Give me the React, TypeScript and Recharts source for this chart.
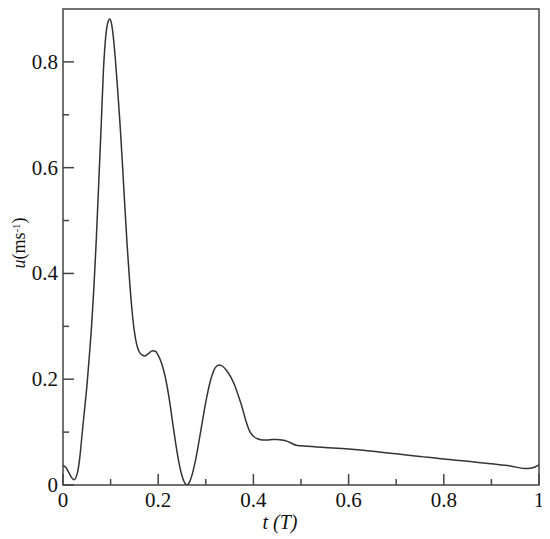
import React from 'react';
import { LineChart, Line, XAxis, YAxis, ReferenceArea } from 'recharts';

const tValues = [
  0.000, 0.006, 0.012, 0.018, 0.023, 0.030, 0.035, 0.040, 0.045, 0.050,
  0.055, 0.060, 0.065, 0.070, 0.075, 0.080, 0.085, 0.090, 0.095, 0.098,
  0.102, 0.106, 0.110, 0.115, 0.120, 0.125, 0.130, 0.135, 0.140, 0.145,
  0.150, 0.155, 0.160, 0.166, 0.172, 0.180, 0.188, 0.194, 0.200, 0.206,
  0.212, 0.218, 0.224, 0.230, 0.236, 0.242, 0.248, 0.254, 0.260, 0.266,
  0.272, 0.278, 0.284, 0.290, 0.296, 0.302, 0.308, 0.314, 0.320, 0.328,
  0.336, 0.344, 0.352, 0.360, 0.368, 0.376, 0.384, 0.392, 0.400, 0.410,
  0.420, 0.430, 0.440, 0.450, 0.460, 0.470, 0.480, 0.490, 0.500, 0.550,
  0.600, 0.650, 0.700, 0.750, 0.800, 0.850, 0.900, 0.940, 0.970, 0.985,
  1.000,
];
const uValues = [
  0.037, 0.033, 0.024, 0.014, 0.010, 0.022, 0.050, 0.095, 0.140, 0.185,
  0.240, 0.300, 0.375, 0.465, 0.570, 0.675, 0.785, 0.850, 0.877, 0.881,
  0.872, 0.845, 0.805, 0.745, 0.680, 0.605, 0.525, 0.450, 0.385, 0.330,
  0.290, 0.265, 0.252, 0.246, 0.244, 0.249, 0.254, 0.253, 0.245, 0.233,
  0.215, 0.190, 0.158, 0.120, 0.083, 0.050, 0.024, 0.007, 0.000, 0.006,
  0.022, 0.045, 0.074, 0.105, 0.137, 0.166, 0.191, 0.210, 0.222, 0.227,
  0.224, 0.216, 0.205, 0.190, 0.170, 0.148, 0.122, 0.102, 0.092, 0.087,
  0.085, 0.085, 0.086, 0.086, 0.085, 0.083, 0.079, 0.075, 0.074, 0.071,
  0.068, 0.064, 0.059, 0.054, 0.049, 0.045, 0.040, 0.036, 0.031, 0.032,
  0.038,
];

const xTicks = [0, 0.1, 0.2, 0.3, 0.4, 0.5, 0.6, 0.7, 0.8, 0.9, 1];
const yTicks = [0, 0.1, 0.2, 0.3, 0.4, 0.5, 0.6, 0.7, 0.8];

const data = tValues.map((t, i) => ({ t, u: uValues[i] }));

const AXIS = '#444';
const FONT = '"Liberation Serif", "DejaVu Serif", serif';
const MAJOR = 11;
const MINOR = 6;

const isMajor = (v: number) => Math.round(v * 10) % 2 === 0;

const BottomTick = (props: any) => {
  const { x, y, payload } = props;
  const v = payload.value;
  const major = isMajor(v);
  return (
    <g>
      <path d={`M${x},${y}V${y - (major ? MAJOR : MINOR)}`} stroke={AXIS} strokeWidth={1.5} fill="none" />
      {major && (
        <text x={x} y={y + 22} textAnchor="middle" fontFamily={FONT} fontSize={21} fill="#111">
          {String(v)}
        </text>
      )}
    </g>
  );
};

const LeftTick = (props: any) => {
  const { x, y, payload } = props;
  const v = payload.value;
  const major = isMajor(v);
  return (
    <g>
      <path d={`M${x},${y}H${x + (major ? MAJOR : MINOR)}`} stroke={AXIS} strokeWidth={1.5} fill="none" />
      {major && (
        <text x={x - 5} y={y + 7} textAnchor="end" fontFamily={FONT} fontSize={21} fill="#111">
          {String(v)}
        </text>
      )}
    </g>
  );
};

const TopTick = (props: any) => {
  const { x, y, payload } = props;
  const major = isMajor(payload.value);
  return <path d={`M${x},${y}V${y + (major ? MAJOR : MINOR)}`} stroke={AXIS} strokeWidth={1.5} fill="none" />;
};

const RightTick = (props: any) => {
  const { x, y, payload } = props;
  const major = isMajor(payload.value);
  return <path d={`M${x},${y}H${x - (major ? MAJOR : MINOR)}`} stroke={AXIS} strokeWidth={1.5} fill="none" />;
};

const YLabel = () => (
  <text
    x={17}
    y={235}
    transform="rotate(-90, 17, 235)"
    textAnchor="middle"
    fontFamily={FONT}
    fontSize={18}
    fill="#111"
  >
    <tspan fontStyle="italic">u</tspan>
    <tspan>(ms</tspan>
    <tspan fontSize={11} dy={-5}>-1</tspan>
    <tspan dy={5}>)</tspan>
  </text>
);

const XLabel = () => (
  <text x={272} y={521} textAnchor="middle" fontFamily={FONT} fontSize={20} fontStyle="italic" fill="#111">
    t (T)
  </text>
);

export default function App() {
  return (
    <LineChart width={542} height={531} data={data} margin={{ top: 1, right: 11, bottom: 0, left: 0 }}>
      <XAxis
        xAxisId="bottom"
        dataKey="t"
        type="number"
        domain={[0, 1]}
        ticks={xTicks}
        interval={0}
        height={54}
        tickSize={0}
        tickMargin={0}
        tickLine={false}
        axisLine={false}
        tick={<BottomTick />}
        allowDataOverflow
        label={<XLabel />}
      />
      <XAxis
        xAxisId="top"
        orientation="top"
        dataKey="t"
        type="number"
        domain={[0, 1]}
        ticks={xTicks}
        interval={0}
        height={0}
        tickSize={0}
        tickMargin={0}
        tickLine={false}
        axisLine={false}
        tick={<TopTick />}
        allowDataOverflow
      />
      <YAxis
        yAxisId="left"
        type="number"
        domain={[0, 0.9]}
        ticks={yTicks}
        interval={0}
        width={55}
        tickSize={0}
        tickMargin={0}
        tickLine={false}
        axisLine={false}
        tick={<LeftTick />}
        allowDataOverflow
        label={<YLabel />}
      />
      <YAxis
        yAxisId="right"
        orientation="right"
        type="number"
        domain={[0, 0.9]}
        ticks={yTicks}
        interval={0}
        width={0}
        tickSize={0}
        tickMargin={0}
        tickLine={false}
        axisLine={false}
        tick={<RightTick />}
        allowDataOverflow
      />
      <ReferenceArea
        xAxisId="bottom"
        yAxisId="left"
        x1={0}
        x2={1}
        y1={0}
        y2={0.9}
        fill="none"
        fillOpacity={0}
        stroke={AXIS}
        strokeWidth={1.5}
        strokeOpacity={1}
      />
      <Line
        xAxisId="bottom"
        yAxisId="left"
        dataKey="u"
        type="monotone"
        stroke="#333"
        strokeWidth={1.5}
        dot={false}
        isAnimationActive={false}
      />
    </LineChart>
  );
}
